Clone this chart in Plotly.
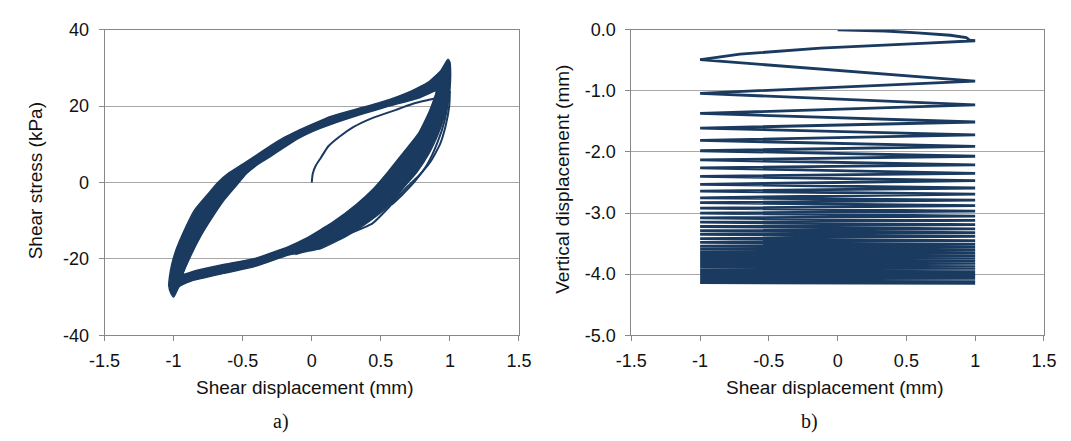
import plotly.graph_objects as go

# ---------------- Panel a) : shear stress vs shear displacement ----------------
# outer boundary of the band formed by the stabilised loops (clockwise)
band_outer_x = [-1.00, -1.02, -1.035, -1.03, -1.014, -0.979, -0.92, -0.85, -0.756, -0.68, -0.60,
                -0.50, -0.40, -0.30, -0.20, -0.10, 0.0, 0.136, 0.371, 0.559, 0.723, 0.84, 0.934,
                0.986, 1.0, 1.005, 1.0, 0.985, 0.958, 0.915, 0.85, 0.76, 0.66, 0.57, 0.43, 0.254,
                0.066, -0.03, -0.169, -0.404, -0.639, -0.873, -0.96, -1.00]
band_outer_y = [-30.0, -29.0, -27.0, -24.8, -21.5, -17.3, -12.3, -7.3, -3.2, 0.0, 2.5,
                4.8, 7.2, 9.6, 11.8, 13.6, 15.2, 17.3, 19.7, 21.7, 24.0, 26.2, 29.3,
                32.3, 31.5, 28.5, 24.5, 21.0, 17.0, 12.7, 7.7, 2.7, -1.5, -5.7, -9.8, -14.0,
                -17.3, -18.0, -19.0, -21.9, -23.8, -25.8, -27.3, -30.0]
# inner boundary of the same band (counter-clockwise)
band_inner_x = [-0.93, -0.85, -0.639, -0.404, -0.169, -0.05, 0.16, 0.324, 0.45, 0.55, 0.66,
                0.77, 0.85, 0.90, 0.78, 0.559, 0.371, 0.136, 0.0, -0.099, -0.216, -0.30, -0.38,
                -0.474, -0.544, -0.639, -0.732, -0.803, -0.873, -0.93]
band_inner_y = [-24.0, -23.2, -21.5, -19.8, -16.8, -14.8, -10.2, -5.7, -1.5, 2.7, 7.7,
                12.7, 18.5, 24.0, 22.2, 20.0, 18.0, 15.2, 13.3, 11.5, 8.8, 6.8, 5.0,
                2.3, -0.7, -4.8, -9.8, -14.0, -19.0, -24.0]
# first loading from the origin
initial_x = [0.0, 0.007, 0.03, 0.066, 0.12, 0.20, 0.30, 0.42, 0.535, 0.60, 0.653, 0.75, 0.864, 0.93, 0.97]
initial_y = [0.0, 2.3, 4.5, 6.5, 9.5, 12.0, 14.5, 16.6, 18.1, 18.9, 19.6, 20.8, 21.8, 22.5, 24.0]
# first unloading (outermost thin branch on the right)
cycle1_x = [1.0, 0.995, 0.97, 0.93, 0.86, 0.78, 0.70, 0.63, 0.55, 0.44, 0.254, 0.089, 0.0, -0.12]
cycle1_y = [24.0, 20.0, 15.0, 10.2, 5.5, 2.0, -0.8, -3.5, -6.8, -10.7, -13.6, -15.7, -17.3, -18.8]
# second unloading (thin branch just outside the band)
cycle2_x = [1.0, 0.99, 0.96, 0.91, 0.84, 0.75, 0.66, 0.58]
cycle2_y = [28.0, 22.0, 16.0, 10.5, 5.0, 0.5, -3.0, -5.8]

# ---------------- Panel b) : vertical vs shear displacement ----------------
start_x = [0.0, 0.345, 0.58, 0.82, 0.935, 0.96, 1.0]
start_y = [0.0, -0.02, -0.05, -0.09, -0.13, -0.17, -0.18]
first_return_x = [1.0, 0.65, -0.126, -0.71, -0.97, -1.0]
first_return_y = [-0.18, -0.22, -0.30, -0.40, -0.48, -0.49]
# vertical displacement at each reversal, alternating left (-1 mm) / right (+1 mm)
turn_y = [-0.49, -0.84, -1.04, -1.23, -1.37, -1.51, -1.61, -1.72, -1.81, -1.91, -1.98, -2.07,
          -2.13, -2.21, -2.26, -2.35, -2.40, -2.47, -2.53, -2.59, -2.64, -2.69, -2.75, -2.79,
          -2.83, -2.88, -2.92, -2.97, -3.00, -3.05, -3.08, -3.12, -3.15, -3.19, -3.22, -3.26,
          -3.29, -3.32, -3.35, -3.38, -3.42, -3.45, -3.48, -3.51, -3.54, -3.56, -3.59, -3.61,
          -3.64, -3.66, -3.68, -3.70, -3.72, -3.74, -3.76, -3.78, -3.80, -3.81, -3.83, -3.84,
          -3.86, -3.87, -3.89, -3.90, -3.91, -3.92, -3.94, -3.95, -3.96, -3.97, -3.98, -3.99,
          -4.00, -4.01, -4.02, -4.03, -4.04, -4.05, -4.06, -4.07, -4.08, -4.08, -4.09, -4.10,
          -4.10, -4.11, -4.11, -4.12, -4.12, -4.13, -4.13, -4.14, -4.14, -4.15]
turn_x = ([-1.0, 1.0] * 60)[:len(turn_y)]

x_ticks = [-1.5, -1, -0.5, 0, 0.5, 1, 1.5]
x_ticktext = ["-1.5", "-1", "-0.5", "0", "0.5", "1", "1.5"]
ya_ticks = [-40, -20, 0, 20, 40]
ya_ticktext = ["-40", "-20", "0", "20", "40"]
yb_ticks = [0, -1, -2, -3, -4, -5]
yb_ticktext = ["0.0", "-1.0", "-2.0", "-3.0", "-4.0", "-5.0"]

NAVY = "#1a3a5f"
GRID = "#a8a8a8"
AXL = "#888888"
FONT = "Liberation Sans, Arial, sans-serif"

fig = go.Figure()
# band: single keyhole polygon = outer loop followed by inner loop (opposite direction)
fig.add_trace(go.Scatter(x=band_outer_x + band_inner_x, y=band_outer_y + band_inner_y,
                         mode="none", fill="toself", fillcolor=NAVY,
                         xaxis="x", yaxis="y", showlegend=False, hoverinfo="skip"))
for xs, ys, w in [(band_outer_x, band_outer_y, 1.5), (band_inner_x, band_inner_y, 1.5),
                  (initial_x, initial_y, 2), (cycle1_x, cycle1_y, 2), (cycle2_x, cycle2_y, 2)]:
    fig.add_trace(go.Scatter(x=xs, y=ys, mode="lines",
                             line=dict(color=NAVY, width=w, shape="spline", smoothing=0.5),
                             xaxis="x", yaxis="y", showlegend=False))

path_x = start_x + first_return_x[1:] + turn_x[1:]
path_y = start_y + first_return_y[1:] + turn_y[1:]
fig.add_trace(go.Scatter(x=path_x, y=path_y, mode="lines",
                         line=dict(color=NAVY, width=2.8, simplify=False),
                         xaxis="x2", yaxis="y2", showlegend=False))

W, H = 1071, 441
ydom = [1 - 340.7 / H, 1 - 20.7 / H]
axis_common = dict(showline=True, mirror=True, linecolor=AXL, linewidth=1,
                   ticks="outside", ticklen=5, tickcolor=AXL, zeroline=False,
                   tickfont=dict(family=FONT, size=18, color="#111111"))
fig.update_layout(
    width=W, height=H, margin=dict(l=0, r=0, t=0, b=0),
    paper_bgcolor="white", plot_bgcolor="white",
    xaxis=dict(domain=[91 / W, 517 / W], range=[-1.5, 1.5], tickvals=x_ticks, ticktext=x_ticktext,
               showgrid=False, anchor="y", ticklabelstandoff=4, **axis_common),
    yaxis=dict(domain=ydom, range=[-40, 40], tickvals=ya_ticks, ticktext=ya_ticktext,
               showgrid=True, gridcolor=GRID, anchor="x", ticklabelstandoff=6, **axis_common),
    xaxis2=dict(domain=[632.5 / W, 1056.5 / W], range=[-1.5, 1.5], tickvals=x_ticks,
                ticktext=x_ticktext, showgrid=False, anchor="y2", ticklabelstandoff=4, **axis_common),
    yaxis2=dict(domain=ydom, range=[-5, 0], tickvals=yb_ticks, ticktext=yb_ticktext,
                showgrid=True, gridcolor=GRID, anchor="x2", ticklabelstandoff=6, **axis_common),
)

title_font = dict(family=FONT, size=19, color="#111111")
serif = dict(family="Liberation Serif, Times New Roman, serif", size=20, color="#111111")
ann = [
    dict(text="Shear stress (kPa)", x=20 / W, y=1 - 179 / H, textangle=-90, font=title_font),
    dict(text="Vertical displacement (mm)", x=562 / W, y=1 - 177 / H, textangle=-90, font=title_font),
    dict(text="Shear displacement (mm)", x=297 / W, y=1 - 395 / H, font=title_font),
    dict(text="Shear displacement (mm)", x=842 / W, y=1 - 395 / H, font=title_font),
    dict(text="a)", x=272 / W, y=1 - 431 / H, font=serif),
    dict(text="b)", x=816 / W, y=1 - 431 / H, font=serif),
]
for a in ann:
    fig.add_annotation(xref="paper", yref="paper", showarrow=False, xanchor="center",
                       yanchor="middle", **a)

fig.write_html("out.html", config={"displayModeBar": False},
               post_script="document.body.style.margin='0px';")
